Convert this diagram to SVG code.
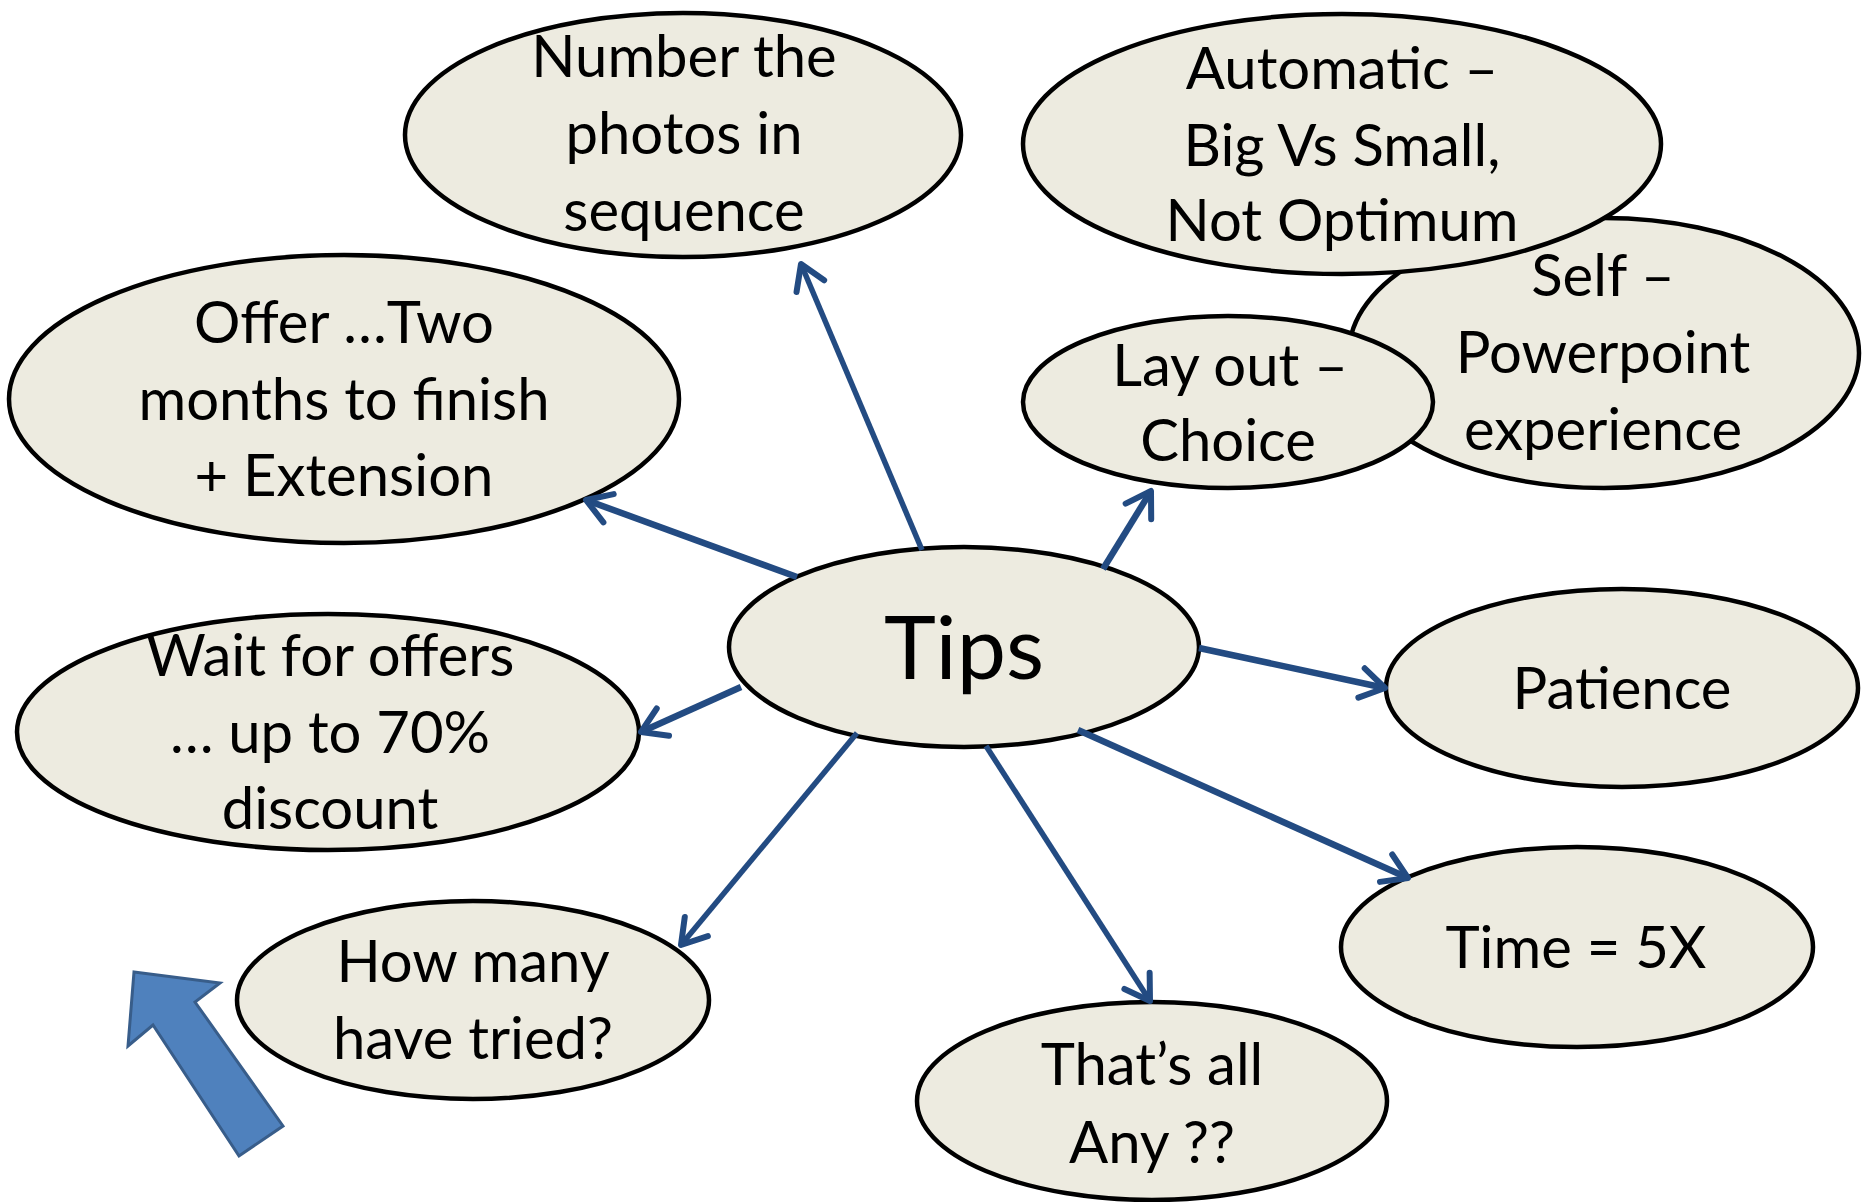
<svg xmlns="http://www.w3.org/2000/svg" width="1864" height="1202" viewBox="0 0 1864 1202">
<style>
.node ellipse{fill:#edebe0;stroke:#000;stroke-width:4.5}
.node text{font-family:Lato,"Liberation Sans",sans-serif;font-size:58px;fill:#000;text-anchor:middle}
.conn line{stroke:#234b82;stroke-width:5.5;fill:none}
.conn line.thick{stroke-width:6.5}
</style>
<defs>
<marker id="arr" markerUnits="userSpaceOnUse" viewBox="-30 -20 36 40" refX="0" refY="0" markerWidth="36" markerHeight="40" orient="auto">
<path d="M-24,-15 L0,0 L-24,15" fill="none" stroke="#234b82" stroke-width="6" stroke-linecap="round" stroke-linejoin="round"/>
</marker>
</defs>
<rect width="1864" height="1202" fill="#fff"/>
<g id="n-number" class="node"><ellipse cx="683" cy="135" rx="278" ry="122"/><text x="684" y="77">Number the</text><text x="684" y="154">photos in</text><text x="684" y="231">sequence</text></g>
<g id="n-offer" class="node"><ellipse cx="344" cy="399" rx="335" ry="144"/><text x="344" y="343">Offer …Two</text><text x="344" y="420">months to finish</text><text x="344" y="496">+ Extension</text></g>
<g id="n-self" class="node"><ellipse cx="1604" cy="353" rx="255" ry="135"/><text x="1603" y="296">Self –</text><text x="1603" y="373">Powerpoint</text><text x="1603" y="450">experience</text></g>
<g id="n-auto" class="node"><ellipse cx="1342" cy="144" rx="319" ry="130"/><text x="1342" y="89">Automatic –</text><text x="1342" y="166">Big Vs Small,</text><text x="1342" y="241">Not Optimum</text></g>
<g id="n-layout" class="node"><ellipse cx="1228" cy="402" rx="205" ry="86"/><text x="1230" y="386">Lay out –</text><text x="1228" y="461">Choice</text></g>
<g id="n-wait" class="node"><ellipse cx="328" cy="732" rx="311" ry="118"/><text x="330" y="676">Wait for offers</text><text x="330" y="753">… up to 70%</text><text x="330" y="829">discount</text></g>
<g id="n-howmany" class="node"><ellipse cx="473" cy="1000" rx="236" ry="99"/><text x="473" y="982">How many</text><text x="473" y="1059">have tried?</text></g>
<g id="n-patience" class="node"><ellipse cx="1622" cy="688" rx="236" ry="99"/><text x="1622" y="709">Patience</text></g>
<g id="n-time" class="node"><ellipse cx="1577" cy="947" rx="236" ry="100"/><text x="1576" y="968">Time = 5X</text></g>
<g id="n-thats" class="node"><ellipse cx="1152" cy="1101" rx="235" ry="99"/><text x="1152" y="1085">That’s all</text><text x="1152" y="1163">Any ??</text></g>
<g id="n-tips" class="node"><ellipse cx="964" cy="647" rx="235" ry="100"/><text x="964" y="679" style="font-size:88px">Tips</text></g>
<g id="connectors" class="conn">
<line x1="922" y1="550" x2="801" y2="264" marker-end="url(#arr)"/>
<line class="thick" x1="797" y1="577" x2="586" y2="500" marker-end="url(#arr)"/>
<line class="thick" x1="1103" y1="569" x2="1151" y2="491" marker-end="url(#arr)"/>
<line class="thick" x1="1199" y1="648" x2="1385" y2="688" marker-end="url(#arr)"/>
<line class="thick" x1="1078" y1="730" x2="1408" y2="878" marker-end="url(#arr)"/>
<line x1="986" y1="746" x2="1150" y2="1001" marker-end="url(#arr)"/>
<line class="thick" x1="741" y1="687" x2="641" y2="732" marker-end="url(#arr)"/>
<line x1="857" y1="733" x2="681" y2="945" marker-end="url(#arr)"/>
</g>
<g id="big-arrow">
<polygon points="134,972 220,983 195,1002 283,1126 239,1156 153,1025 128,1046" fill="#4f81bd" stroke="#385d8a" stroke-width="3" stroke-linejoin="miter"/>
</g>
</svg>
